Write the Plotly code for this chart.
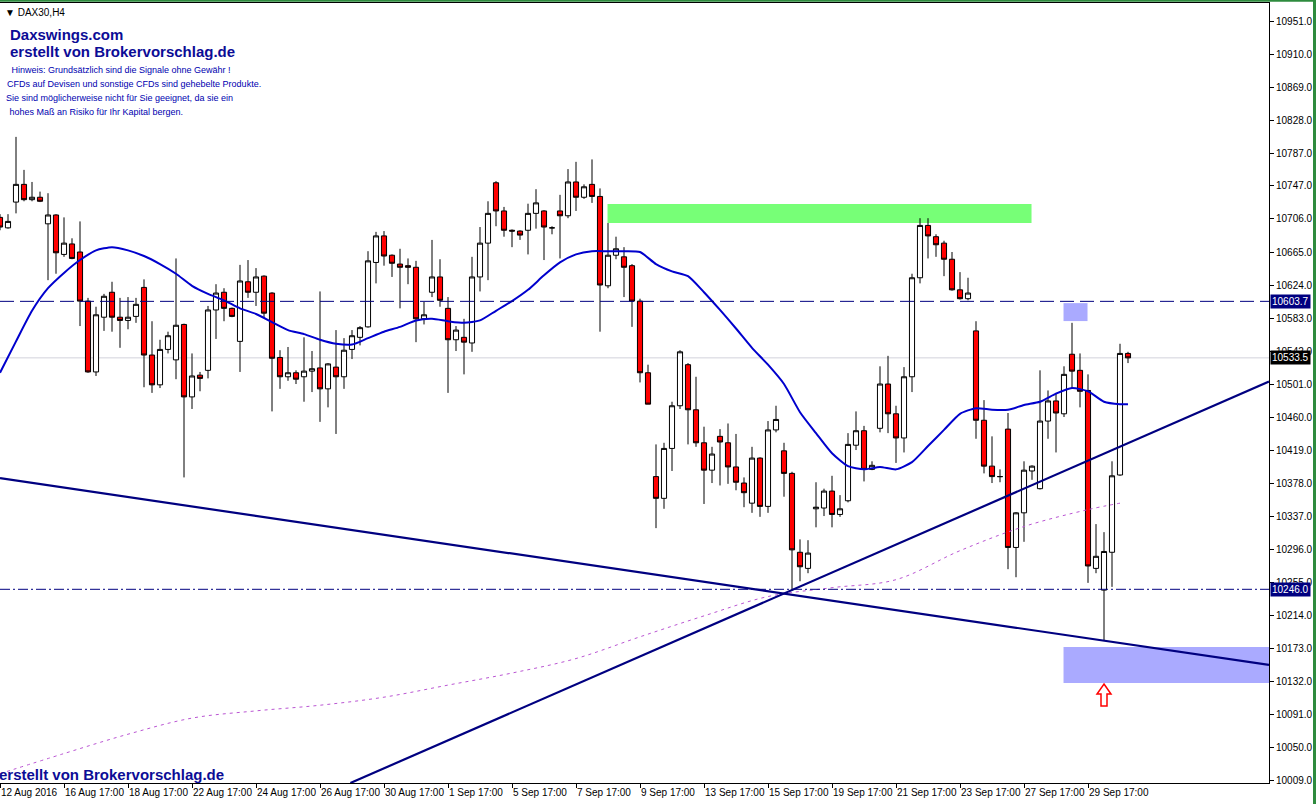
import plotly.graph_objects as go

# ---------------- data ----------------
bars = list(range(142))
opens = [10708,10695,10727,10749,10730,10733,10700,10711,10662,10675,
         10665,10604,10516,10584,10615,10584,10580,10585,10621,10537,
         10500,10544,10531,10575,10485,10512,10518,10593,10615,10595,
         10554,10628,10615,10635,10614,10534,10510,10515,10510,10517,
         10521,10495,10522,10510,10544,10559,10572,10652,10685,10661,
         10650,10648,10646,10582,10615,10634,10595,10556,10559,10552,
         10634,10676,10751,10716,10692,10691,10692,10713,10716,10695,
         10716,10710,10752,10733,10749,10734,10623,10661,10659,10648,
         10604,10515,10386,10359,10421,10474,10525,10469,10428,10394,
         10436,10428,10398,10378,10353,10409,10349,10444,10418,10390,
         10292,10272,10346,10347,10368,10339,10356,10425,10443,10395,
         10446,10501,10464,10434,10510,10633,10698,10684,10676,10656,
         10618,10607,10567,10456,10399,10386,10445,10298,10341,10393,
         10371,10455,10480,10464,10538,10518,10493,10272,10245,10292,
         10388,10539]
highs = [10712,10712,10808,10767,10752,10740,10738,10712,10708,10682,
         10703,10608,10597,10613,10628,10608,10609,10608,10631,10579,
         10556,10566,10657,10576,10539,10516,10598,10625,10620,10596,
         10649,10655,10645,10636,10615,10543,10547,10518,10559,10542,
         10616,10527,10568,10558,10568,10573,10666,10690,10691,10662,
         10669,10657,10654,10603,10680,10656,10609,10573,10582,10659,
         10696,10728,10753,10721,10693,10692,10725,10743,10717,10697,
         10736,10768,10777,10749,10780,10744,10701,10684,10671,10650,
         10607,10525,10426,10428,10479,10543,10527,10510,10448,10423,
         10445,10452,10439,10385,10423,10410,10455,10474,10428,10392,
         10308,10307,10379,10371,10387,10363,10440,10467,10449,10405,
         10523,10536,10474,10522,10638,10707,10707,10687,10679,10665,
         10640,10633,10579,10481,10436,10395,10465,10342,10405,10400,
         10518,10493,10490,10523,10577,10539,10513,10327,10317,10405,
         10551,10541]
lows = [10692,10694,10713,10728,10728,10727,10630,10638,10659,10656,
        10573,10515,10511,10567,10566,10546,10569,10577,10497,10490,
        10496,10539,10507,10385,10470,10492,10508,10557,10579,10584,
        10516,10608,10598,10583,10467,10495,10505,10501,10479,10491,
        10454,10472,10439,10495,10532,10549,10571,10626,10648,10634,
        10595,10625,10553,10575,10609,10597,10490,10542,10513,10541,
        10616,10630,10697,10684,10671,10680,10662,10694,10655,10687,
        10657,10707,10716,10731,10726,10566,10620,10656,10609,10572,
        10503,10476,10322,10346,10393,10470,10426,10423,10352,10378,
        10375,10377,10369,10348,10341,10336,10341,10441,10361,10245,
        10256,10266,10323,10337,10323,10336,10354,10419,10380,10394,
        10441,10440,10403,10416,10491,10626,10657,10659,10635,10617,
        10606,10605,10433,10390,10378,10379,10271,10261,10305,10382,
        10370,10433,10416,10460,10496,10472,10254,10266,10183,10249,
        10387,10527]
closes = [10696,10703,10749,10730,10733,10728,10711,10664,10676,10657,
          10604,10516,10587,10610,10584,10580,10584,10600,10537,10500,
          10544,10561,10574,10485,10511,10508,10593,10614,10595,10585,
          10629,10615,10634,10589,10533,10510,10515,10507,10517,10520,
          10495,10526,10510,10543,10561,10571,10654,10685,10660,10651,
          10646,10646,10582,10587,10634,10605,10556,10568,10553,10634,
          10676,10713,10716,10692,10691,10686,10713,10726,10696,10695,
          10710,10752,10733,10746,10734,10624,10661,10669,10646,10604,
          10515,10476,10359,10421,10474,10541,10469,10428,10394,10414,
          10429,10398,10379,10366,10409,10349,10444,10457,10390,10295,
          10274,10291,10348,10368,10339,10346,10426,10443,10395,10400,
          10501,10464,10434,10510,10633,10698,10685,10674,10656,10618,
          10607,10614,10456,10399,10386,10386,10298,10341,10394,10399,
          10455,10480,10465,10513,10517,10492,10275,10287,10293,10387,
          10539,10533.5]

# blue moving average (read every 2 bars)
ma_bars = list(range(0, 141, 2)) + [141]
ma_vals = [10515,10554,10592,10620,10639,10655,10667,10671,10667,10660,
           10650,10638,10623,10613,10605,10595,10588,10578,10568,10563,
           10556,10551,10550,10558,10566,10572,10580,10582,10579,10577,
           10580,10592,10604,10618,10636,10652,10662,10666,10666,10666,
           10665,10650,10641,10635,10615,10593,10570,10546,10525,10501,
           10466,10440,10415,10399,10395,10398,10395,10404,10424,10444,
           10464,10471,10469,10469,10475,10479,10489,10496,10492,10479,
           10476,10476]

# slow (violet, dashed) moving average, read every 8 bars
slow_bars = list(range(0, 137, 8)) + [140]
slow_vals = [10017,10042,10066,10086,10095,10102,10112,10127,10142,10160,
             10187,10213,10237,10248,10258,10294,10324,10345,10353]

# trend lines (bar index, price)
trend_down_x = [0, 158.625]
trend_down_y = [10384, 10152]
trend_up_x = [43.8, 158.625]
trend_up_y = [10005.4, 10504]

# horizontal levels
level_dashed = 10603.7
level_bid = 10533.5
level_dashdot = 10246.0

# zones  (x0, x1 in bars, y0, y1 in price)
zone_green = (75.94, 128.94, 10701.0, 10724.5)
zone_small = (132.94, 135.94, 10579.2, 10601.5)
zone_big = (132.94, 160.0, 10129.6, 10174.3)

# axis labels
xtick_pos = list(range(0, 137, 8))
xtick_text = ["12 Aug 2016", "16 Aug 17:00", "18 Aug 17:00", "22 Aug 17:00",
              "24 Aug 17:00", "26 Aug 17:00", "30 Aug 17:00", "1 Sep 17:00",
              "5 Sep 17:00", "7 Sep 17:00", "9 Sep 17:00", "13 Sep 17:00",
              "15 Sep 17:00", "19 Sep 17:00", "21 Sep 17:00", "23 Sep 17:00",
              "27 Sep 17:00", "29 Sep 17:00"]
ytick_vals = [10009, 10050, 10091, 10132, 10173, 10214, 10255, 10296, 10337,
              10378, 10419, 10460, 10501, 10542, 10583, 10624, 10665, 10706,
              10747, 10787, 10828, 10869, 10910, 10951]

disclaimer = [" Hinweis: Grundsätzlich sind die Signale ohne Gewähr !",
              "CFDs auf Devisen und sonstige CFDs sind gehebelte Produkte.",
              "Sie sind möglicherweise nicht für Sie geeignet, da sie ein",
              " hohes Maß an Risiko für Ihr Kapital bergen."]

# ---------------- figure ----------------
FONT = "Liberation Sans, Arial, sans-serif"
NAVY = "#000080"
TXT_BLUE = "#0c0c96"

fig = go.Figure()

fig.add_trace(go.Candlestick(
    x=bars, open=opens, high=highs, low=lows, close=closes,
    increasing=dict(line=dict(color="black", width=1), fillcolor="white"),
    decreasing=dict(line=dict(color="black", width=1), fillcolor="#FF0000"),
    whiskerwidth=0, showlegend=False, hoverinfo="skip"))

fig.add_trace(go.Scatter(x=slow_bars, y=slow_vals, mode="lines",
                         line=dict(color="#BA55D3", width=1, dash="3px,4px", shape="spline"),
                         showlegend=False, hoverinfo="skip"))
fig.add_trace(go.Scatter(x=ma_bars, y=ma_vals, mode="lines",
                         line=dict(color="#0000CD", width=2, shape="spline", smoothing=0.6),
                         showlegend=False, hoverinfo="skip"))
fig.add_trace(go.Scatter(x=trend_down_x, y=trend_down_y, mode="lines",
                         line=dict(color=NAVY, width=2.2), showlegend=False, hoverinfo="skip"))
fig.add_trace(go.Scatter(x=trend_up_x, y=trend_up_y, mode="lines",
                         line=dict(color=NAVY, width=2.2), showlegend=False, hoverinfo="skip"))

shapes = []
for z, col in [(zone_green, "#77FF77"), (zone_small, "#AAAAFF"), (zone_big, "#AAAAFF")]:
    shapes.append(dict(type="rect", xref="x", yref="y", x0=z[0], x1=z[1], y0=z[2], y1=z[3],
                       fillcolor=col, line=dict(width=0), layer="below"))
shapes.append(dict(type="line", xref="paper", yref="y", x0=0, x1=1, y0=level_bid, y1=level_bid,
                   line=dict(color="#D2D2DC", width=1), layer="below"))
shapes.append(dict(type="line", xref="paper", yref="y", x0=0, x1=1, y0=level_dashed, y1=level_dashed,
                   line=dict(color=NAVY, width=1, dash="14px,6px"), layer="above"))
shapes.append(dict(type="line", xref="paper", yref="y", x0=0, x1=1, y0=level_dashdot, y1=level_dashdot,
                   line=dict(color=NAVY, width=1, dash="10px,3px,2px,3px"), layer="above"))
# hollow red arrow under the lower zone
shapes.append(dict(type="path", xref="x", yref="y", xsizemode="pixel", ysizemode="pixel",
                   xanchor=138, yanchor=zone_big[2],
                   path="M0,-1 L7,-11 L3,-11 L3,-23 L-3,-23 L-3,-11 L-7,-11 Z",
                   fillcolor="white", line=dict(color="#FF0000", width=1.5), layer="above"))
# window frame (green)
shapes.append(dict(type="rect", xref="paper", yref="paper", x0=-0.01, x1=1.04,
                   y0=1 + 1.2 / 780, y1=1 + 3.2 / 780, fillcolor="#2E8B3E", line=dict(width=0)))
shapes.append(dict(type="rect", xref="paper", yref="paper", x0=1313 / 1269, x1=1317 / 1269,
                   y0=-0.05, y1=1.01, fillcolor="#2E8B3E", line=dict(width=0)))

ann = []
ann.append(dict(xref="paper", yref="paper", x=0, y=1, xanchor="left", yanchor="middle",
                xshift=3, yshift=-9, showarrow=False, text="▼ DAX30,H4",
                font=dict(family=FONT, size=10, color="black")))
ann.append(dict(xref="paper", yref="paper", x=0, y=1, xanchor="left", yanchor="middle",
                xshift=8, yshift=-31, showarrow=False, text="<b>Daxswings.com</b>",
                font=dict(family=FONT, size=15, color=TXT_BLUE)))
ann.append(dict(xref="paper", yref="paper", x=0, y=1, xanchor="left", yanchor="middle",
                xshift=8, yshift=-48, showarrow=False, text="<b>erstellt von Brokervorschlag.de</b>",
                font=dict(family=FONT, size=15, color=TXT_BLUE)))
for i, line in enumerate(disclaimer):
    ann.append(dict(xref="paper", yref="paper", x=0, y=1, xanchor="left", yanchor="middle",
                    xshift=[7, 5, 4, 5][i], yshift=-67 - 14 * i, showarrow=False, text=line,
                    font=dict(family=FONT, size=9, color="#0000B0")))
ann.append(dict(xref="paper", yref="paper", x=0, y=0, xanchor="left", yanchor="middle",
                xshift=-3, yshift=9, showarrow=False, text="<b>erstellt von Brokervorschlag.de</b>",
                font=dict(family=FONT, size=15, color=TXT_BLUE)))
for val, bg in [(level_dashed, NAVY), (level_bid, "black"), (level_dashdot, NAVY)]:
    ann.append(dict(xref="paper", yref="y", x=1, y=val, xanchor="left", yanchor="middle",
                    xshift=1, showarrow=False, text=f"{val:.1f}", bgcolor=bg, borderpad=1,
                    font=dict(family=FONT, size=10, color="white")))

fig.update_layout(
    width=1316, height=804,
    margin=dict(l=0, r=47, t=3, b=21, autoexpand=False),
    paper_bgcolor="white", plot_bgcolor="white",
    boxgap=0.2, boxgroupgap=0.2,
    shapes=shapes, annotations=ann, showlegend=False,
    xaxis=dict(range=[0, 158.625], rangeslider=dict(visible=False), showgrid=False,
               zeroline=False, tickmode="array", tickvals=xtick_pos, ticktext=xtick_text,
               ticks="outside", ticklen=4, tickcolor="black", ticklabelposition="outside right",
               tickangle=0, automargin=False,
               showline=True, linecolor="black", linewidth=1, mirror=True,
               tickfont=dict(family=FONT, size=10, color="black")),
    yaxis=dict(range=[10005.4, 10974.3], side="right", showgrid=False, zeroline=False,
               tickmode="array", tickvals=ytick_vals, ticktext=[f"{v:.1f}" for v in ytick_vals],
               ticks="outside", ticklen=4, tickcolor="black", automargin=False,
               showline=True, linecolor="black", linewidth=1, mirror=True,
               tickfont=dict(family=FONT, size=10, color="black")),
)

fig.write_html("out.html", config={"displayModeBar": False},
               post_script="document.documentElement.style.margin='0';"
                           "document.body.style.margin='0';"
                           "document.body.style.overflow='hidden';")
